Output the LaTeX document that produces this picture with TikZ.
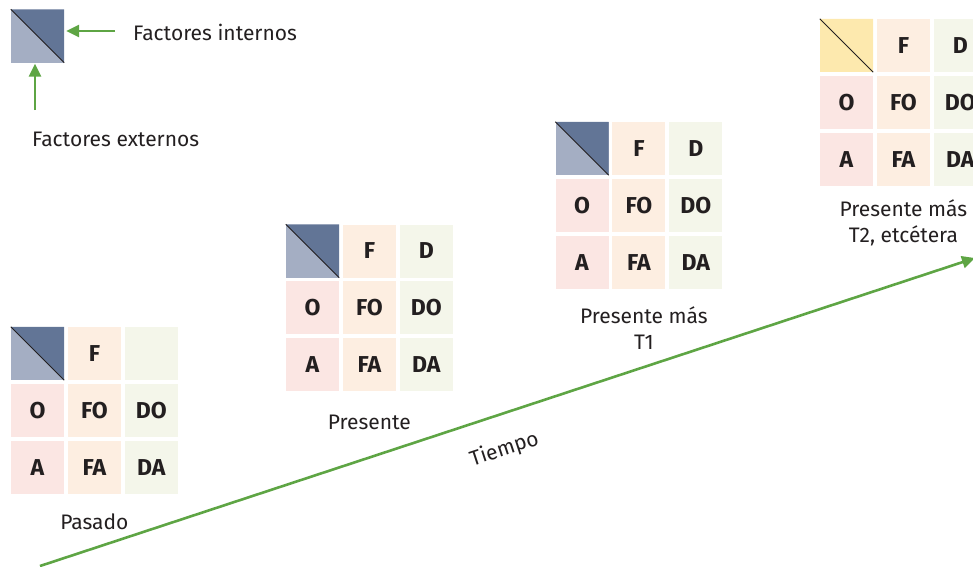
\documentclass[tikz,border=0pt]{standalone}
\usepackage{fontspec}
\setmainfont{Fira Sans}
\usetikzlibrary{positioning,arrows.meta}

\definecolor{oscuro}{RGB}{98,117,150}
\definecolor{claro}{RGB}{164,174,195}
\definecolor{amarillo}{RGB}{253,233,174}
\definecolor{colF}{RGB}{253,238,225}
\definecolor{colD}{RGB}{244,246,234}
\definecolor{colO}{RGB}{251,230,227}
\definecolor{verde}{RGB}{94,165,68}
\definecolor{texto}{RGB}{35,31,32}

\tikzset{
  celda/.style={minimum size=53pt, inner sep=0pt, text=texto, font=\fontsize{23}{23}\selectfont\bfseries},
  diag/.style={line width=0.9pt, texto},
  rotulo/.style={text=texto, font=\fontsize{21}{26}\selectfont, align=center, inner sep=0pt},
  flecha/.style={verde, line width=2.6pt, -{Triangle[length=13pt,width=12pt]}}
}

% name, x, y, D label, lower colour, upper colour
\newcommand{\matriz}[6]{%
  \node[celda, fill=#5] (#1c) at (#2,#3) {};
  \fill[#6] (#1c.north west) -- (#1c.north east) -- (#1c.south east) -- cycle;
  \draw[diag] (#1c.north west) -- (#1c.south east);
  \node[celda, fill=colF, right=of #1c] (#1f) {F};
  \node[celda, fill=colD, right=of #1f] (#1d) {#4};
  \node[celda, fill=colO, below=of #1c] (#1o) {O};
  \node[celda, fill=colF, below=of #1f] (#1fo) {FO};
  \node[celda, fill=colD, below=of #1d] (#1do) {DO};
  \node[celda, fill=colO, below=of #1o] (#1a) {A};
  \node[celda, fill=colF, below=of #1fo] (#1fa) {FA};
  \node[celda, fill=colD, below=of #1do] (#1da) {DA};
}

\begin{document}
\begin{tikzpicture}[x=1pt, y=-1pt, node distance=3.5pt]
  \useasboundingbox (0,0) rectangle (973,566);

  % leyenda
  \node[celda, fill=claro] (ley) at (37.5,36) {};
  \fill[oscuro] (ley.north west) -- (ley.north east) -- (ley.south east) -- cycle;
  \draw[diag] (ley.north west) -- (ley.south east);
  \node[rotulo, anchor=west] (internos) at (133,32) {Factores internos};
  \node[rotulo, anchor=west] (externos) at (32,139) {Factores externos};
  \coordinate (colaint) at (115,31);
  \coordinate (colaext) at (35,110);
  \draw[flecha] (colaint) -- ([xshift=2pt]colaint -| ley.east);
  \draw[flecha] (colaext) -- ([yshift=-1pt]colaext |- ley.south);

  % tiempo
  \coordinate (inicio) at (40,566);
  \coordinate (fin) at (975,258);
  \draw[flecha] (inicio) -- node[rotulo, sloped, below=23pt, pos=0.485] (tiempo) {Tiempo} (fin);

  % matrices
  \matriz{p}{37.5}{353.5}{}{claro}{oscuro}
  \matriz{q}{312.5}{251}{D}{claro}{oscuro}
  \matriz{r}{582}{148.5}{D}{claro}{oscuro}
  \matriz{s}{846.5}{45.5}{D}{amarillo}{amarillo}

  \node[rotulo, below=20pt of pfa] (pasado) {Pasado};
  \node[rotulo, below=23pt of qfa] (presente) {Presente};
  \node[rotulo, below=17pt of rfa, xshift=5pt] (t1) {Presente más\\T1};
  \node[rotulo, below=13pt of sfa] (t2) {Presente más\\T2, etcétera};
\end{tikzpicture}
\end{document}
